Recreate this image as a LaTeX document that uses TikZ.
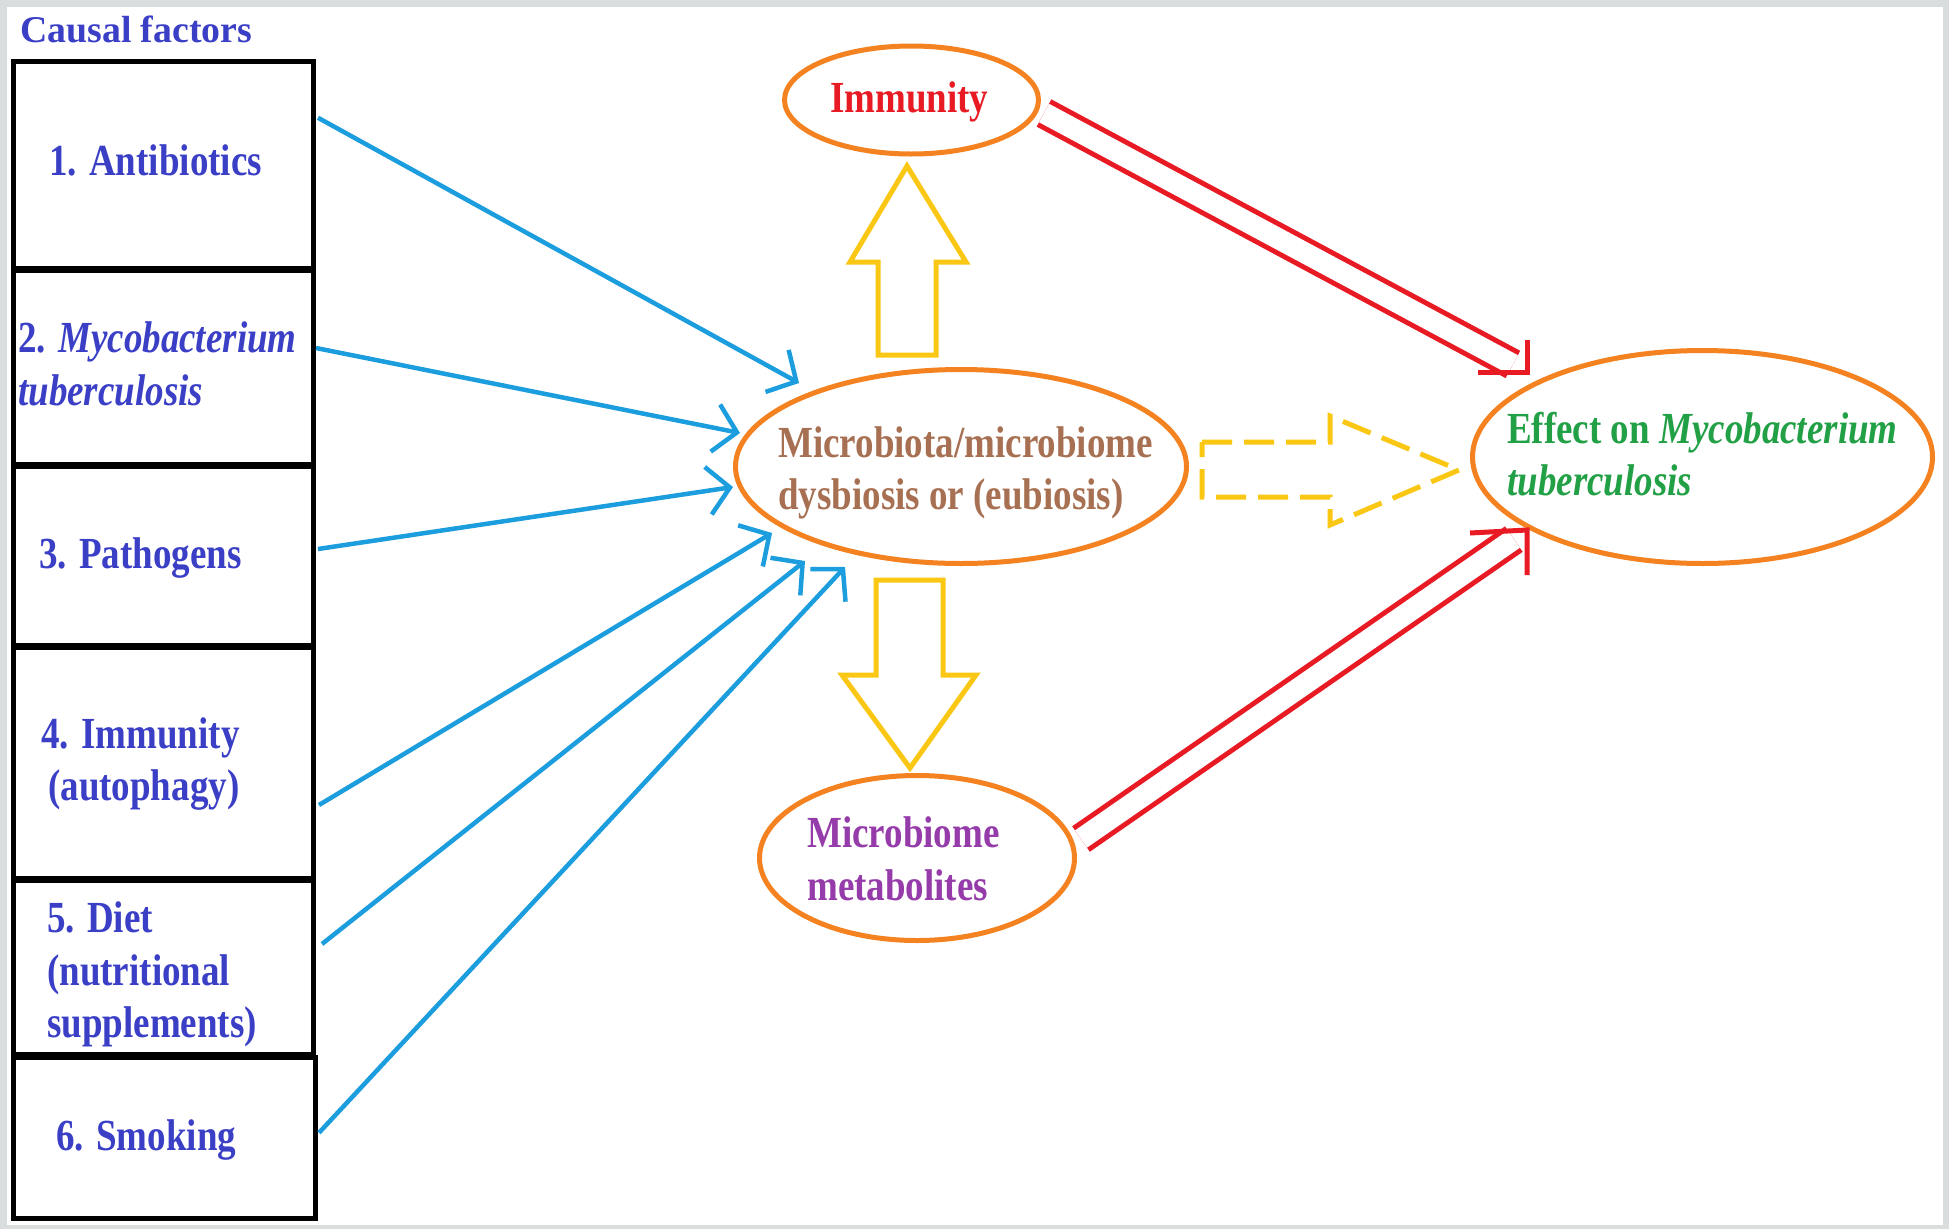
\documentclass[tikz,border=0pt]{standalone}
\usepackage{graphicx}
\usepackage{fontspec}
\setmainfont{Liberation Serif}
\usetikzlibrary{arrows.meta,shapes.geometric,calc}
\definecolor{bggray}{RGB}{218,221,221}
\definecolor{txtblue}{RGB}{58,63,198}
\definecolor{arrblue}{RGB}{27,157,222}
\definecolor{redc}{RGB}{232,27,36}
\definecolor{orng}{RGB}{245,130,32}
\definecolor{yell}{RGB}{250,200,20}
\definecolor{brn}{RGB}{168,112,82}
\definecolor{purp}{RGB}{150,60,170}
\definecolor{grn}{RGB}{34,160,70}
\newcommand{\tallt}[1]{\scalebox{1}[1.2]{#1}}
\begin{document}
\begin{tikzpicture}[x=1pt,y=-1pt,
  cbox/.style={draw=black, line width=5, inner sep=0, minimum width=300},
  ltxt/.style={anchor=base west, inner sep=0, text=txtblue, font=\fontsize{37}{44}\selectfont\bfseries},
  oell/.style={ellipse, draw=orng, line width=5, inner sep=0},
  etxt/.style={anchor=base west, inner sep=0, font=\fontsize{37}{44}\selectfont\bfseries},
  barr/.style={draw=arrblue, line width=4.5, -{Straight Barb[length=22pt,width=48pt]}},
  redl/.style={draw=redc, line width=5},
  yblock/.style={draw=yell, line width=5, line join=miter}
]
\fill[bggray] (0,0) rectangle (1949,1229);
\fill[white] (7,7) rectangle (1943,1225);
\useasboundingbox (0,0) rectangle (1949,1229);

% causal factor boxes
\node[cbox, minimum height=206.5] (b1) at (163.5,164.75) {};
\node[cbox, minimum height=194] (b2) at (163.5,367) {};
\node[cbox, minimum height=179] (b3) at (163.5,555.5) {};
\node[cbox, minimum height=231] (b4) at (163.5,762.5) {};
\node[cbox, minimum height=174] (b5) at (163.5,967) {};
\node[cbox, minimum height=161.5, minimum width=302] (b6) at (164.5,1137.75) {};

\node[ltxt, font=\fontsize{37.8}{44}\selectfont\bfseries] (cf) at (20,42) {Causal factors};
\node[ltxt] (t1) at (49,175) {\tallt{1. Antibiotics}};
\node[ltxt] (t2a) at (18,352) {\tallt{2. \textit{Mycobacterium}}};
\node[ltxt] (t2b) at (18,405) {\tallt{\textit{tuberculosis}}};
\node[ltxt] (t3) at (39,568) {\tallt{3. Pathogens}};
\node[ltxt] (t4a) at (41,748) {\tallt{4. Immunity}};
\node[ltxt] (t4b) at (48,800) {\tallt{(autophagy)}};
\node[ltxt] (t5a) at (47,932) {\tallt{5. Diet}};
\node[ltxt] (t5b) at (47,985) {\tallt{(nutritional}};
\node[ltxt] (t5c) at (47,1037) {\tallt{supplements)}};
\node[ltxt] (t6) at (56,1150) {\tallt{6. Smoking}};

% ellipses
\node[oell, minimum width=254, minimum height=108] (imm) at (911.5,100) {};
\node[oell, minimum width=451, minimum height=194] (mic) at (961,466.5) {};
\node[oell, minimum width=315, minimum height=165] (met) at (917,858) {};
\node[oell, minimum width=460, minimum height=213] (eff) at (1702.5,457) {};

\node[etxt, text=redc] (immT) at (830,112) {\tallt{Immunity}};
\node[etxt, text=brn] (micT1) at (778,457) {\tallt{Microbiota/microbiome}};
\node[etxt, text=brn] (micT2) at (778,509) {\tallt{dysbiosis or (eubiosis)}};
\node[etxt, text=purp] (metT1) at (807,847) {\tallt{Microbiome}};
\node[etxt, text=purp] (metT2) at (807,900) {\tallt{metabolites}};
\node[etxt, text=grn] (effT1) at (1507,443) {\tallt{Effect on \textit{Mycobacterium}}};
\node[etxt, text=grn] (effT2) at (1507,495) {\tallt{\textit{tuberculosis}}};

% blue arrows from causal factors
\coordinate (s1) at ($(b1.east)+(2,-47)$);
\coordinate (s2) at ($(b2.east)+(0,-19)$);
\coordinate (s3) at ($(b3.east)+(2,-6.5)$);
\coordinate (s4) at ($(b4.east)+(3,42.5)$);
\coordinate (s5) at ($(b5.east)+(6,-23)$);
\coordinate (s6) at ($(b6.east)+(1,-5)$);
\coordinate (e1) at (799,383);
\coordinate (e2) at (740,433);
\coordinate (e3) at (733,487);
\coordinate (e4) at (772,533);
\coordinate (e5) at (805,561);
\coordinate (e6) at (845,567);
\draw[barr] (s1) -- (e1);
\draw[barr] (s2) -- (e2);
\draw[barr] (s3) -- (e3);
\draw[barr] (s4) -- (e4);
\draw[barr] (s5) -- (e5);
\draw[barr] (s6) -- (e6);

% yellow block arrows
\draw[yblock] (878,355) -- (878,262) -- (850,262) -- (907,166) -- (966,262) -- (936,262) -- (936,355) -- cycle;
\draw[yblock] (876,580) -- (943,580) -- (943,675) -- (976,675) -- (910,768) -- (842,675) -- (876,675) -- cycle;
\draw[yblock, dash pattern=on 30pt off 12pt] (1202,442) -- (1330,442) -- (1330,416) -- (1459,470) -- (1330,525) -- (1330,497) -- (1202,497) -- cycle;

% red double arrows
\coordinate (r1s) at ($(imm.east)+(3,13)$);
\coordinate (r1t) at ($(eff.west)+(57,-85)$);
\coordinate (r2s) at ($(met.east)+(4,-19)$);
\coordinate (r2t) at ($(eff.west)+(57,73)$);
\draw[redl, double=white, double distance=21, shorten >=16pt] (r1s) -- (r1t);
\draw[redl] (r1t) ++(0,-32) -- (r1t) -- ++(-49,0);
\draw[redl, double=white, double distance=21, shorten >=16pt] (r2s) -- (r2t);
\draw[redl] (r2t) ++(0,45) -- (r2t) -- ++(-57,3);
\end{tikzpicture}
\end{document}
